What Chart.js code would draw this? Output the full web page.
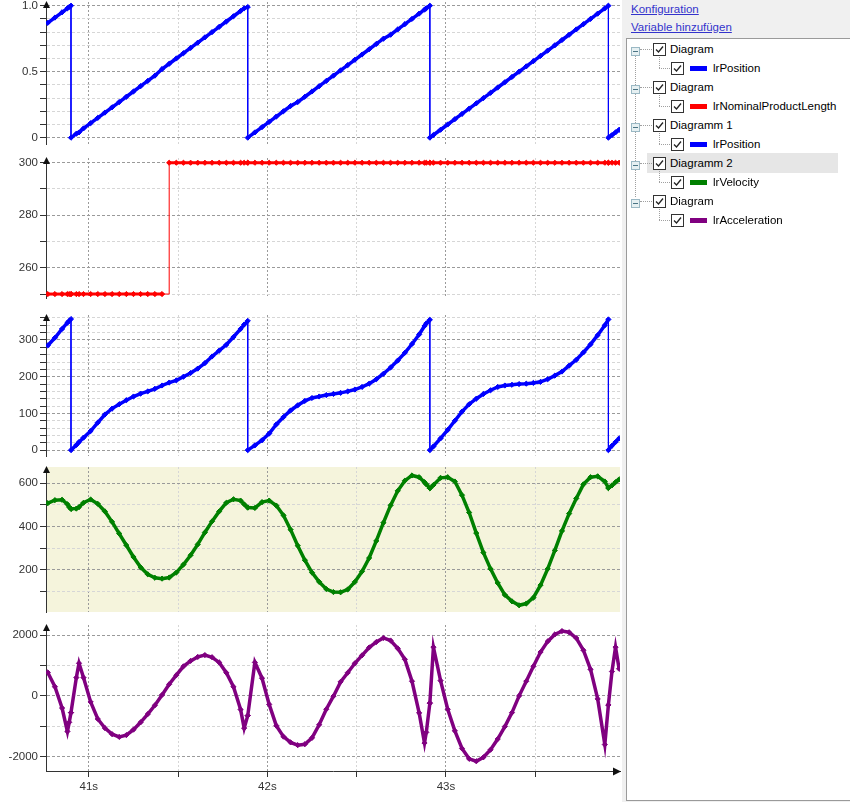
<!DOCTYPE html>
<html>
<head>
<meta charset="utf-8">
<script src="https://cdn.jsdelivr.net/npm/chart.js@4.4.1/dist/chart.umd.min.js"></script>
<style>
  body { margin: 0; width: 850px; height: 802px; overflow: hidden; background: #fff;
         font-family: "Liberation Sans", Arial, sans-serif; font-size: 11.5px; color: #000; }
  #plots { position: absolute; left: 0; top: 0; width: 622px; height: 802px; overflow: hidden; }
  #plots canvas { position: absolute; left: 0; }
  #side { position: absolute; left: 622px; top: 0; width: 228px; height: 802px; background: #f0f0f0; }
  #treeBox { position: absolute; left: 626px; top: 38px; width: 240px; height: 761px;
             background: #fff; border: 1px solid #9a9a9a; }
  .link { position: absolute; left: 631px; color: #3333cc; text-decoration: underline; line-height: 14px; white-space: nowrap; }
  .abs { position: absolute; white-space: nowrap; line-height: 14px; }
  .dotV { position: absolute; width: 0; border-left: 1px dotted #a0a0a0; }
  .dotH { position: absolute; height: 0; border-top: 1px dotted #a0a0a0; }
</style>
</head>
<body>
<div id="plots">
  <canvas id="p1" width="625" height="166" style="top:-10px"></canvas>
  <canvas id="p2" width="625" height="164" style="top:146px"></canvas>
  <canvas id="p3" width="625" height="165" style="top:303px"></canvas>
  <canvas id="p4" width="625" height="169" style="top:455px"></canvas>
  <canvas id="p5" width="625" height="189" style="top:613px"></canvas>
</div>
<div id="side"></div>
<div class="link" style="top:2px">Konfiguration</div>
<div class="link" style="top:20px">Variable hinzufügen</div>
<div id="treeBox"></div>
<div id="tree"></div>

<script>
// sample times in seconds (extra points at the position resets)
const timeSec = [
  40.77, 40.81, 40.85, 40.88, 40.89, 40.90, 40.90, 40.93, 40.945, 40.97,
  41.01, 41.05, 41.09, 41.13, 41.17, 41.21, 41.25, 41.29, 41.33, 41.37,
  41.41, 41.45, 41.49, 41.53, 41.57, 41.61, 41.65, 41.69, 41.73, 41.77,
  41.81, 41.85, 41.87, 41.89, 41.89, 41.93, 41.97, 42.01, 42.05, 42.09,
  42.13, 42.17, 42.21, 42.25, 42.29, 42.33, 42.37, 42.41, 42.45, 42.49,
  42.53, 42.57, 42.61, 42.65, 42.69, 42.73, 42.77, 42.81, 42.85, 42.88,
  42.89, 42.91, 42.91, 42.93, 42.97, 43.01, 43.05, 43.09, 43.13, 43.17,
  43.21, 43.25, 43.29, 43.33, 43.37, 43.41, 43.45, 43.49, 43.53, 43.57,
  43.61, 43.65, 43.69, 43.73, 43.77, 43.81, 43.85, 43.89, 43.91, 43.91,
  43.93, 43.95, 43.97
];

const positionNorm = [
  0.87, 0.91, 0.95, 0.98, 0.99, 1.00, 0.00, 0.03, 0.04, 0.07,
  0.11, 0.15, 0.19, 0.23, 0.27, 0.31, 0.35, 0.39, 0.43, 0.47,
  0.52, 0.56, 0.60, 0.64, 0.68, 0.72, 0.76, 0.80, 0.84, 0.88,
  0.92, 0.96, 0.98, 0.99, 0.00, 0.04, 0.08, 0.12, 0.16, 0.20,
  0.24, 0.27, 0.31, 0.35, 0.39, 0.43, 0.47, 0.51, 0.55, 0.59,
  0.63, 0.67, 0.71, 0.75, 0.78, 0.82, 0.86, 0.90, 0.94, 0.97,
  0.98, 1.00, 0.00, 0.02, 0.06, 0.10, 0.14, 0.18, 0.22, 0.26,
  0.30, 0.34, 0.38, 0.42, 0.46, 0.50, 0.54, 0.58, 0.62, 0.66,
  0.70, 0.74, 0.78, 0.82, 0.86, 0.90, 0.94, 0.98, 1.00, 0.00,
  0.02, 0.04, 0.06
];

const nominalLength = [
  250, 250, 250, 250, 250, 250, 250, 250, 250, 250,
  250, 250, 250, 250, 250, 250, 250, 250, 250, 250,
  250, 300, 300, 300, 300, 300, 300, 300, 300, 300,
  300, 300, 300, 300, 300, 300, 300, 300, 300, 300,
  300, 300, 300, 300, 300, 300, 300, 300, 300, 300,
  300, 300, 300, 300, 300, 300, 300, 300, 300, 300,
  300, 300, 300, 300, 300, 300, 300, 300, 300, 300,
  300, 300, 300, 300, 300, 300, 300, 300, 300, 300,
  300, 300, 300, 300, 300, 300, 300, 300, 300, 300,
  300, 300, 300
];

const positionDeg = [
  285, 306, 330, 347, 352, 357, 0, 14, 22, 34,
  52, 75, 97, 113, 125, 136, 146, 154, 160, 167,
  176, 184, 190, 200, 210, 222, 237, 255, 271, 287,
  308, 330, 342, 352, 0, 13, 27, 45, 70, 90,
  108, 122, 134, 142, 146, 150, 153, 156, 160, 165,
  172, 181, 193, 208, 225, 244, 265, 289, 315, 338,
  345, 355, 0, 10, 32, 55, 80, 105, 125, 140,
  153, 163, 172, 176, 178, 180, 181, 183, 186, 193,
  203, 214, 230, 246, 266, 288, 313, 340, 356, 0,
  12, 22, 32
];

const velocity = [
  508, 522, 524, 503, 490, 482, 482, 483, 490, 510,
  525, 505, 470, 422, 368, 314, 260, 212, 180, 164,
  160, 165, 188, 225, 268, 318, 373, 424, 470, 510,
  526, 520, 503, 488, 488, 486, 513, 520, 497, 452,
  386, 312, 245, 188, 145, 112, 98, 97, 110, 145,
  193, 255, 334, 418, 498, 565, 612, 636, 628, 605,
  595, 577, 577, 592, 625, 628, 608, 545, 465, 370,
  280, 205, 140, 85, 55, 37, 45, 72, 130, 205,
  290, 380, 460, 530, 595, 628, 632, 608, 578, 578,
  590, 605, 618
];

const acceleration = [
  770, 300, -400, -1170, -870, -550, -550, 600, 1070, 600,
  -200, -760, -1060, -1260, -1350, -1290, -1110, -870, -600, -310,
  30, 380, 680, 970, 1150, 1280, 1340, 1270, 1100, 760,
  300, -450, -1060, -650, -650, 1100, 580, -280, -980, -1340,
  -1530, -1620, -1590, -1380, -950, -440, -10, 460, 760, 1070,
  1330, 1590, 1770, 1905, 1820, 1560, 1200, 480, -560, -1550,
  -1200, -240, -240, 1600, 500, -440, -1150, -1730, -2070, -2150,
  -2020, -1770, -1420, -1010, -550, 0, 480, 970, 1440, 1790,
  2020, 2130, 2090, 1900, 1500, 870, -100, -1600, -300, -300,
  800, 1600, 890
];

const timeTicks = [41, 41.5, 42, 42.5, 43, 43.5];
const timeTickLabels = ['41s', '', '42s', '', '43s', ''];

const p1Ticks = [0, 0.1, 0.2, 0.3, 0.4, 0.5, 0.6, 0.7, 0.8, 0.9, 1.0];
const p1Labels = ['0', '', '', '', '', '0.5', '', '', '', '', '1.0'];
const p2Ticks = [250, 260, 270, 280, 290, 300];
const p2Labels = ['', '260', '', '280', '', '300'];
const p3Ticks = [0, 20, 40, 60, 80, 100, 120, 140, 160, 180, 200, 220, 240, 260, 280, 300, 320, 340, 360];
const p3Labels = ['0', '', '', '', '', '100', '', '', '', '', '200', '', '', '', '', '300', '', '', ''];
const p4Ticks = [100, 200, 300, 400, 500, 600];
const p4Labels = ['', '200', '', '400', '', '600'];
const p5Ticks = [-2000, -1000, 0, 1000, 2000];
const p5Labels = ['-2000', '', '0', '', '2000'];

const treeGroups = ['Diagram', 'Diagram', 'Diagramm 1', 'Diagramm 2', 'Diagram'];
const treeVariables = ['lrPosition', 'lrNominalProductLength', 'lrPosition', 'lrVelocity', 'lrAcceleration'];
const treeColors = ['#0000ff', '#ff0000', '#0000ff', '#008000', '#800080'];

const tickFont = { family: '"Liberation Sans", Arial, sans-serif', size: 11.5 };
const gridColor = c => (c.tick && c.tick.major ? '#9a9a9a' : '#d6d6d6');

// arrows on the axes and optional plot background
const axisDecor = {
  id: 'axisDecor',
  beforeDraw(chart, args, opts) {
    if (!opts.fill) return;
    const a = chart.chartArea;
    chart.ctx.save();
    chart.ctx.fillStyle = opts.fill;
    chart.ctx.fillRect(a.left, a.top, a.right - a.left, a.bottom - a.top);
    chart.ctx.restore();
  },
  afterDraw(chart, args, opts) {
    const ctx = chart.ctx;
    const a = chart.chartArea;
    ctx.save();
    ctx.fillStyle = '#111';
    ctx.beginPath();
    ctx.moveTo(a.left + 0.5, a.top - 1);
    ctx.lineTo(a.left - 3, a.top + 6);
    ctx.lineTo(a.left + 4, a.top + 6);
    ctx.closePath();
    ctx.fill();
    if (opts.timeArrow) {
      ctx.beginPath();
      ctx.moveTo(a.right + 1, a.bottom + 0.5);
      ctx.lineTo(a.right - 7, a.bottom - 3.5);
      ctx.lineTo(a.right - 7, a.bottom + 4.5);
      ctx.closePath();
      ctx.fill();
    }
    ctx.restore();
  }
};

function series(values, color, width, stepped) {
  return {
    data: timeSec.map((t, i) => ({ x: t, y: values[i] })),
    borderColor: color,
    backgroundColor: color,
    borderWidth: width,
    stepped: stepped || false,
    pointRadius: 2.6,
    pointHoverRadius: 2.6,
    pointStyle: 'rectRot',
    pointBorderWidth: 1,
    segment: {
      // jumps (resets, steps) are drawn with a thin line
      borderWidth: c => {
        if (c.p0.parsed.x === c.p1.parsed.x) return 1;
        if (stepped && c.p0.parsed.y !== c.p1.parsed.y) return 1;
        return width;
      }
    }
  };
}

function makePanel(id, dataset, yMin, yMax, yTicks, yLabels, showTime, fill) {
  new Chart(document.getElementById(id), {
    type: 'line',
    data: { datasets: [dataset] },
    plugins: [axisDecor],
    options: {
      responsive: false,
      animation: false,
      events: [],
      layout: { padding: { top: 12, bottom: showTime ? 0 : 12, left: 0, right: 5 } },
      plugins: {
        legend: { display: false },
        tooltip: { enabled: false },
        axisDecor: { fill: fill, timeArrow: showTime }
      },
      scales: {
        x: {
          type: 'linear',
          min: 40.76,
          max: 43.975,
          afterBuildTicks: s => { s.ticks = timeTicks.map((v, i) => ({ value: v, major: timeTickLabels[i] !== '' })); },
          afterFit: s => { s.height = showTime ? 31 : 0; },
          ticks: {
            display: showTime, autoSkip: false, maxRotation: 0, padding: 3,
            color: '#333', font: tickFont,
            callback: (v, i) => timeTickLabels[i]
          },
          grid: { color: gridColor, drawTicks: showTime, tickLength: 6, tickColor: '#333' },
          border: { display: showTime, color: '#333', width: 1, dash: [2, 2] }
        },
        y: {
          type: 'linear',
          min: yMin,
          max: yMax,
          afterBuildTicks: s => { s.ticks = yTicks.map((v, i) => ({ value: v, major: yLabels[i] !== '' })); },
          afterFit: s => { s.width = 46; },
          ticks: {
            autoSkip: false, padding: 2, color: '#333', font: tickFont,
            callback: (v, i) => yLabels[i]
          },
          grid: { color: gridColor, tickLength: 6, tickColor: '#333' },
          border: { display: true, color: '#333', width: 1, dash: [3, 2] }
        }
      }
    }
  });
}

makePanel('p1', series(positionNorm, '#0000ff', 3.5), -0.048, 1.028, p1Ticks, p1Labels, false, null);
makePanel('p2', series(nominalLength, '#ff0000', 3, true), 248.5, 301.8, p2Ticks, p2Labels, false, null);
makePanel('p3', series(positionDeg, '#0000ff', 3.5), -16, 368, p3Ticks, p3Labels, false, null);
makePanel('p4', series(velocity, '#008000', 3.5), 6, 675, p4Ticks, p4Labels, false, '#f5f4dc');
makePanel('p5', series(acceleration, '#800080', 3.5), -2470, 2329, p5Ticks, p5Labels, true, null);

// variable tree on the right
const tree = document.getElementById('tree');
function add(html) { tree.insertAdjacentHTML('beforeend', html); }
const checkSvg = '<svg width="13" height="13"><rect x="0.5" y="0.5" width="12" height="12" fill="#fff" stroke="#333"/>' +
  '<path d="M3 6.5 L5.5 9 L10 3.5" fill="none" stroke="#222" stroke-width="1.3"/></svg>';
const expSvg = '<svg width="9" height="9"><rect x="0.5" y="0.5" width="8" height="8" fill="#e6f0f2" stroke="#9ab8c4"/>' +
  '<line x1="2" y1="4.5" x2="7" y2="4.5" stroke="#4a7484"/></svg>';

add('<div class="abs" style="left:647px;top:153px;width:191px;height:20px;background:#e6e6e6"></div>');
add('<div class="dotV" style="left:635px;top:54px;height:143px"></div>');
treeGroups.forEach((name, i) => {
  const gy = 49 + 38 * i;
  const cy = 68 + 38 * i;
  add('<div class="dotH" style="left:640px;top:' + gy + 'px;width:12px"></div>');
  add('<div class="abs" style="left:631px;top:' + (gy - 4) + 'px;height:9px">' + expSvg + '</div>');
  add('<div class="abs" style="left:653px;top:' + (gy - 6) + 'px;height:13px">' + checkSvg + '</div>');
  add('<div class="abs" style="left:670px;top:' + (gy - 7) + 'px">' + name + '</div>');
  add('<div class="dotV" style="left:659px;top:' + (gy + 8) + 'px;height:' + (cy - gy - 8) + 'px"></div>');
  add('<div class="dotH" style="left:659px;top:' + cy + 'px;width:11px"></div>');
  add('<div class="abs" style="left:671px;top:' + (cy - 6) + 'px;height:13px">' + checkSvg + '</div>');
  add('<div class="abs" style="left:690px;top:' + (cy - 2) + 'px;width:17px;height:5px;background:' + treeColors[i] + '"></div>');
  add('<div class="abs" style="left:713px;top:' + (cy - 7) + 'px">' + treeVariables[i] + '</div>');
});
</script>
</body>
</html>
